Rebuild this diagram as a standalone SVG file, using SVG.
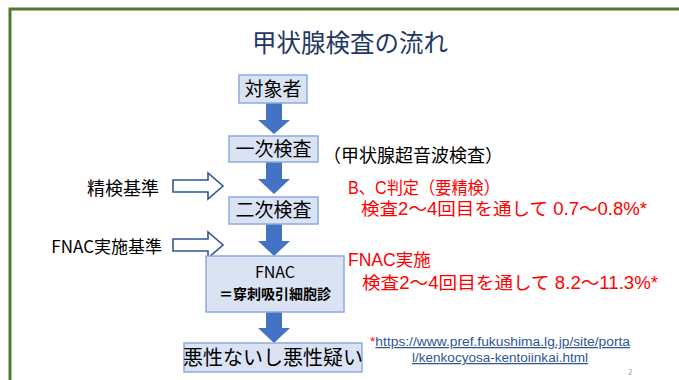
<svg xmlns="http://www.w3.org/2000/svg" width="679" height="380" viewBox="0 0 679 380">
<style>
.jp{font-family:"Noto Sans CJK JP","Noto Sans",sans-serif}
.box{fill:#dae3f3;stroke:#8eaadb;stroke-width:1.5}
.blk{fill:#000;font-size:19px}
.red{font-family:"Liberation Sans","Noto Sans CJK JP",sans-serif;fill:#ff0000;font-size:17.5px}
.barrow{fill:#4472c4}
.harrow{fill:#fff;stroke:#2f5597;stroke-width:1.6}
.url{font-family:"Liberation Sans",Arial,sans-serif;font-size:12.5px}
.lnk{fill:#2f5597;text-decoration:underline}
</style>
<rect width="679" height="380" fill="#fff"/>
<path d="M10,385 V9 H690" fill="none" stroke="#50782f" stroke-width="3"/>
<text class="jp" x="350" y="52" font-size="24.5" fill="#1f3864" text-anchor="middle">甲状腺検査の流れ</text>

<g id="connectors">
<path class="barrow" d="M266,103 H282 V120 H290 L274,134 L258,120 H266 Z"/>
<path class="barrow" d="M266,162 H282 V179 H290 L274,194 L258,179 H266 Z"/>
<path class="barrow" d="M266,224 H282 V241 H290 L274,256 L258,241 H266 Z"/>
<path class="barrow" d="M266,312 H282 V328 H290 L274,343 L258,328 H266 Z"/>
<path class="harrow" d="M173,180 H208 V173 L223,186 L208,199 V192 H173 Z"/>
<path class="harrow" d="M173,239 H208 V232 L223,245 L208,258 V251 H173 Z"/>
</g>

<g id="n_target">
<rect class="box" x="239" y="75" width="68" height="28"/>
<text class="jp blk" x="273" y="96" text-anchor="middle">対象者</text>
</g>
<g id="n_first">
<rect class="box" x="229" y="136" width="89" height="26"/>
<text class="jp blk" x="273.5" y="156" text-anchor="middle">一次検査</text>
</g>
<g id="n_second">
<rect class="box" x="229" y="197" width="89" height="27"/>
<text class="jp blk" x="273.5" y="217" text-anchor="middle">二次検査</text>
</g>
<g id="n_fnac">
<rect class="box" x="206" y="256" width="138" height="56"/>
<text class="jp" x="275" y="278" font-size="16" text-anchor="middle">FNAC</text>
<text class="jp" x="275" y="299" font-size="14" font-weight="bold" text-anchor="middle">＝穿刺吸引細胞診</text>
</g>
<g id="n_result">
<rect class="box" x="184" y="343" width="178" height="29"/>
<text class="jp" x="273" y="365" font-size="20" text-anchor="middle">悪性ないし悪性疑い</text>
</g>

<g id="labels">
<text class="jp" x="87" y="195" font-size="18">精検基準</text>
<text class="jp" x="162" y="253" font-size="17" text-anchor="end">FNAC実施基準</text>
<text class="jp" x="323" y="162" font-size="18">（甲状腺超音波検査）</text>
<text class="red" x="348" y="194" textLength="152" lengthAdjust="spacingAndGlyphs">B、C判定（要精検）</text>
<text class="red" x="361" y="215" textLength="286" lengthAdjust="spacingAndGlyphs">検査2〜4回目を通して 0.7〜0.8%*</text>
<text class="red" x="348" y="266">FNAC実施</text>
<text class="red" x="362" y="289" textLength="296" lengthAdjust="spacingAndGlyphs">検査2〜4回目を通して 8.2〜11.3%*</text>
<text class="url" x="370" y="346" textLength="260" lengthAdjust="spacingAndGlyphs"><tspan fill="#ff0000">*</tspan><tspan class="lnk">https://www.pref.fukushima.lg.jp/site/porta</tspan></text>
<text class="url lnk" x="412" y="362" textLength="176" lengthAdjust="spacingAndGlyphs">l/kenkocyosa-kentoiinkai.html</text>
<text class="jp" x="628" y="375" font-size="8" fill="#a0a0a0">2</text>
</g>
</svg>
